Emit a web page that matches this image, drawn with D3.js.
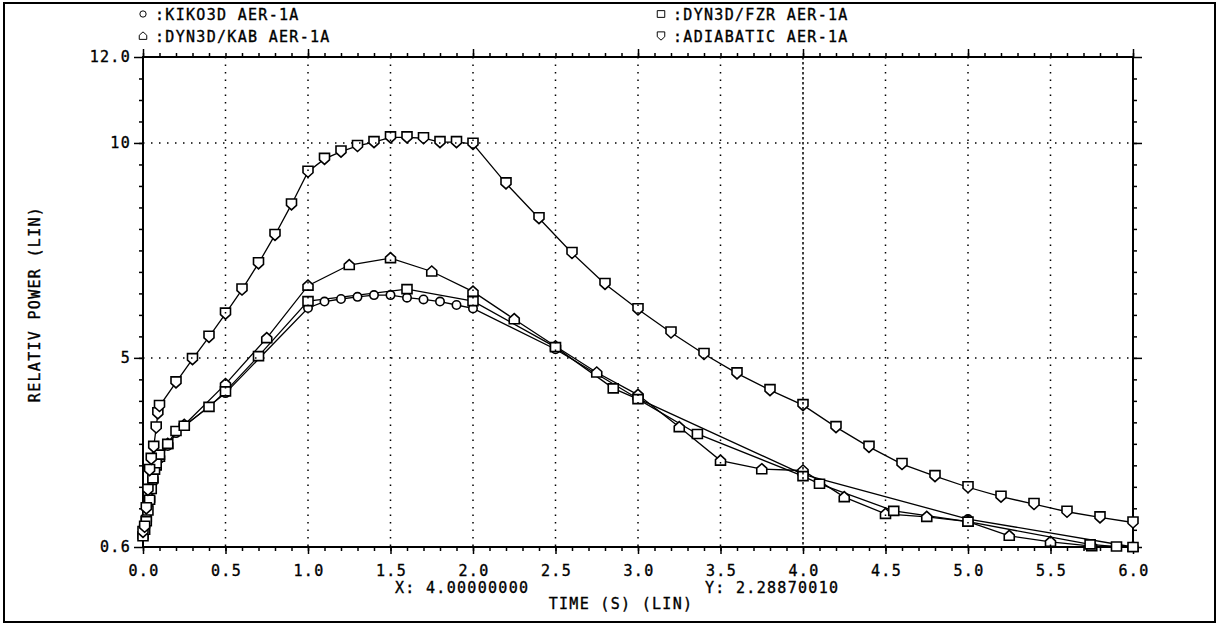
<!DOCTYPE html>
<html><head><meta charset="utf-8">
<script src="https://cdn.jsdelivr.net/npm/d3@7"></script>
<style>
html,body{margin:0;padding:0;background:#fff;}
svg text{font-family:"DejaVu Sans Mono",monospace;font-size:15px;letter-spacing:1.3px;fill:#000;stroke:#000;stroke-width:0.35px;}
</style></head>
<body>
<svg id="c" width="1220" height="629"></svg>
<script>
// ---- data ----
const kikoT = [0,0.02,0.04,0.06,0.08,0.1,0.15,0.2,0.5,1.0,1.1,1.2,1.3,1.4,1.5,1.6,1.7,1.8,1.9,2.0,2.5,3.0,4.0,5.0,6.0];
const kikoV = [0.9,1.2,1.65,2.1,2.45,2.65,2.95,3.25,4.18,6.16,6.31,6.37,6.42,6.46,6.46,6.40,6.36,6.31,6.23,6.15,5.2,4.05,2.29,1.25,0.6];
const fzrT = [0,0.01,0.02,0.03,0.04,0.05,0.06,0.07,0.08,0.1,0.15,0.2,0.25,0.4,0.5,0.7,1.0,1.6,2.0,2.5,2.85,3.0,3.36,4.0,4.1,4.55,5.0,5.74,5.9,6.0];
const fzrV = [0.85,1.0,1.2,1.45,1.7,1.95,2.2,2.4,2.55,2.75,3.0,3.3,3.42,3.86,4.22,5.04,6.32,6.60,6.32,5.25,4.29,4.04,3.23,2.25,2.07,1.44,1.19,0.66,0.61,0.6];
const kabT = [0,0.02,0.04,0.06,0.08,0.1,0.15,0.25,0.5,0.75,1.0,1.25,1.5,1.75,2.0,2.25,2.5,2.75,3.0,3.25,3.5,3.75,4.0,4.25,4.5,4.75,5.0,5.25,5.5,5.75,6.0];
const kabV = [0.9,1.3,1.75,2.2,2.5,2.7,3.0,3.44,4.39,5.46,6.68,7.16,7.32,7.01,6.54,5.90,5.27,4.66,4.14,3.39,2.61,2.41,2.38,1.76,1.37,1.30,1.19,0.86,0.72,0.62,0.6];
const adiaT = [0,0.01,0.02,0.03,0.04,0.05,0.065,0.08,0.09,0.1,0.2,0.3,0.4,0.5,0.6,0.7,0.8,0.9,1.0,1.1,1.2,1.3,1.4,1.5,1.6,1.7,1.8,1.9,2.0,2.2,2.4,2.6,2.8,3.0,3.2,3.4,3.6,3.8,4.0,4.2,4.4,4.6,4.8,5.0,5.2,5.4,5.6,5.8,6.0];
const adiaV = [0.95,1.07,1.5,1.93,2.39,2.65,2.93,3.38,3.71,3.88,4.43,4.97,5.49,6.03,6.59,7.20,7.86,8.57,9.33,9.63,9.80,9.93,10.02,10.13,10.13,10.11,10.02,10.02,9.98,9.06,8.25,7.44,6.72,6.13,5.59,5.09,4.64,4.25,3.90,3.39,2.93,2.53,2.25,1.99,1.77,1.60,1.42,1.29,1.17];
const seriesNames = ["KIKO3D AER-1A","DYN3D/KAB AER-1A","DYN3D/FZR AER-1A","ADIABATIC AER-1A"];
const xLabelTicks = [0,0.5,1,1.5,2,2.5,3,3.5,4,4.5,5,5.5,6];
const yLabelTicks = [0.6,5,10,12];
const yLabelText = ["0.6","5","10","12.0"];
const xTitle = "TIME (S) (LIN)";
const yTitle = "RELATIV POWER (LIN)";
const cursorX = "X: 4.00000000";
const cursorY = "Y: 2.28870010";
const cursorT = 4.0;

// ---- drawing ----
const svg = d3.select("#c");
const L = 143, R = 1133, T = 57, B = 547;
const x = d3.scaleLinear().domain([0,6]).range([L,R]);
const y = d3.scaleLinear().domain([0.6,12]).range([B,T]);

svg.append("rect").attr("x",4).attr("y",3).attr("width",1211).attr("height",619)
  .attr("fill","none").attr("stroke","#000").attr("stroke-width",2);

const minorX = d3.range(0,61).map(i=>i/10);
const minorY = d3.range(2,24).map(i=>i/2);

const g = svg.append("g");
function tickAxis(axisFn, scale, vals, len, pos){
  const a = axisFn(scale).tickValues(vals).tickSize(len).tickFormat("");
  const gg = g.append("g").attr("transform",pos).call(a);
  gg.select(".domain").remove();
  gg.selectAll("line").attr("stroke","#000").attr("stroke-width",1.5);
  return gg;
}
tickAxis(d3.axisBottom, x, minorX, 4, `translate(0,${B})`);
tickAxis(d3.axisBottom, x, xLabelTicks, 7, `translate(0,${B})`);
tickAxis(d3.axisTop, x, minorX, 4, `translate(0,${T})`);
tickAxis(d3.axisTop, x, [0,1,2,3,4,5,6], 8, `translate(0,${T})`);
tickAxis(d3.axisLeft, y, minorY, 4, `translate(${L},0)`);
tickAxis(d3.axisLeft, y, yLabelTicks, 9, `translate(${L},0)`);
tickAxis(d3.axisRight, y, minorY, 4, `translate(${R},0)`);
tickAxis(d3.axisRight, y, yLabelTicks, 9, `translate(${R},0)`);

g.append("rect").attr("x",L).attr("y",T).attr("width",R-L).attr("height",B-T)
  .attr("fill","none").attr("stroke","#000").attr("stroke-width",2);

g.selectAll(".xl").data(xLabelTicks).join("text").attr("x",d=>x(d)+1).attr("y",B+29)
  .attr("text-anchor","middle").text(d=>d3.format(".1f")(d));
g.selectAll(".yl").data(yLabelTicks).join("text").attr("x",L-12).attr("y",d=>y(d)+5)
  .attr("text-anchor","end").text((d,i)=>yLabelText[i]);

svg.append("text").attr("x",621).attr("y",609).attr("text-anchor","middle").text(xTitle);
svg.append("text").attr("transform","translate(40,304) rotate(-90)").attr("text-anchor","middle").text(yTitle);
svg.append("text").attr("x",395).attr("y",593).text(cursorX);
svg.append("text").attr("x",705).attr("y",593).text(cursorY);

const shapes = {
  circle: "M4.2,0A4.2,4.2 0 1,1 -4.2,0A4.2,4.2 0 1,1 4.2,0Z",
  tri: "M0,-5.5L5,-1L5,4.5L-5,4.5L-5,-1Z",
  sq: "M-5,-4.5L5,-4.5L5,4.5L-5,4.5Z",
  inv: "M-5,-5.5L5,-5.5L5,1L0,5.5L-5,1Z"
};
const series = [
  {t:kikoT, v:kikoV, m:"circle"},
  {t:kabT, v:kabV, m:"tri"},
  {t:fzrT, v:fzrV, m:"sq"},
  {t:adiaT, v:adiaV, m:"inv"}
];
const line = d3.line().x(d=>x(d[0])).y(d=>y(d[1]));
const pg = svg.append("g");
series.forEach(s=>{
  const pts = s.t.map((t,i)=>[t,s.v[i]]);
  pg.append("path").attr("d",line(pts)).attr("fill","none").attr("stroke","#000").attr("stroke-width",1.3);
});
series.forEach(s=>{
  const pts = s.t.map((t,i)=>[t,s.v[i]]);
  pg.selectAll(null).data(pts).join("path")
    .attr("transform",d=>`translate(${x(d[0])},${y(d[1])})`)
    .attr("d",shapes[s.m]).attr("fill","#fff").attr("stroke","#000").attr("stroke-width",1.6);
});

const grid = svg.append("g");
grid.selectAll(".gv").data(xLabelTicks.filter(d=>d>0&&d<6&&d!==cursorT)).join("line")
  .attr("x1",d=>x(d)).attr("x2",d=>x(d)).attr("y1",T).attr("y2",B)
  .attr("stroke","#000").attr("stroke-width",1.5).attr("stroke-dasharray","1.5,6");
grid.selectAll(".gh").data([5,10]).join("line")
  .attr("x1",L).attr("x2",R).attr("y1",d=>y(d)).attr("y2",d=>y(d))
  .attr("stroke","#000").attr("stroke-width",1.5).attr("stroke-dasharray","1.5,6.5");
grid.append("line").attr("x1",x(cursorT)).attr("x2",x(cursorT)).attr("y1",T).attr("y2",B)
  .attr("stroke","#000").attr("stroke-width",1.5).attr("stroke-dasharray","2.5,2.5");

const leg = [
  {m:"circle", x:143, y:14, name:seriesNames[0]},
  {m:"tri", x:143, y:36, name:seriesNames[1]},
  {m:"sq", x:661, y:14, name:seriesNames[2]},
  {m:"inv", x:661, y:36, name:seriesNames[3]}
];
leg.forEach(l=>{
  svg.append("path").attr("d",shapes[l.m])
    .attr("fill","#fff").attr("stroke","#000").attr("stroke-width",1.3)
    .attr("transform",`translate(${l.x},${l.y}) scale(0.75)`);
  svg.append("text").attr("x",l.x+12).attr("y",l.y+6).text(":"+l.name);
});
</script>
</body></html>
